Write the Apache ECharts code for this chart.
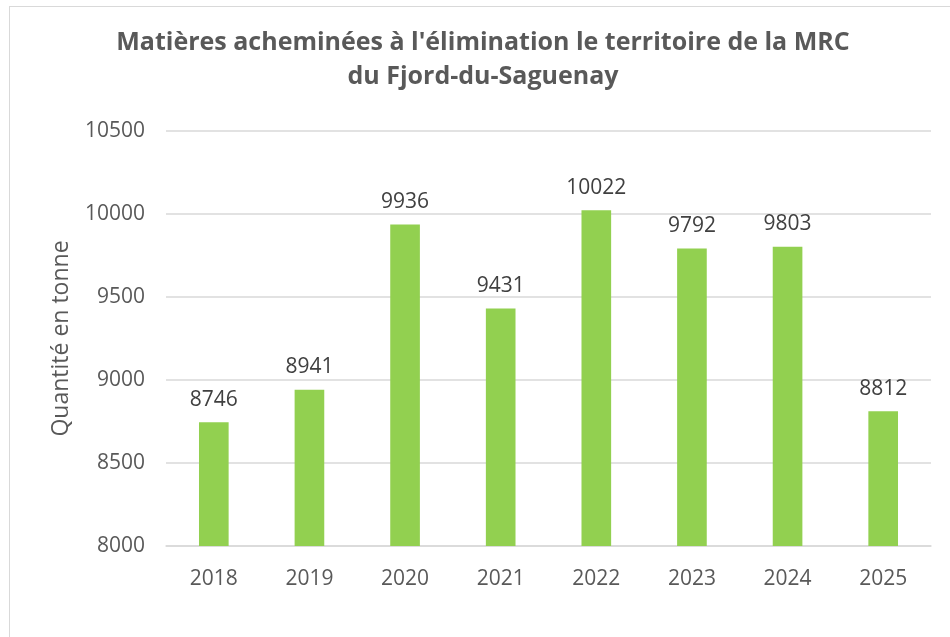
<!DOCTYPE html>
<html>
<head>
<meta charset="utf-8">
<script src="https://cdn.jsdelivr.net/npm/echarts@6/dist/echarts.min.js"></script>
<style>
  html, body { margin: 0; padding: 0; background: #fff; }
  #frame { position: absolute; left: 9px; top: 6px; width: 960px; height: 640px; border: 1px solid #d9d9d9; box-sizing: border-box; }
  #chart { width: 950px; height: 637px; position: absolute; left: 0; top: 0; }
</style>
</head>
<body>
<div id="frame"></div>
<div id="chart"></div>
<script>
const years = ['2018', '2019', '2020', '2021', '2022', '2023', '2024', '2025']
const tonnes = [8746, 8941, 9936, 9431, 10022, 9792, 9803, 8812]

const chart = echarts.init(document.getElementById('chart'))
const font = 'Open Sans, Noto Sans, sans-serif'
chart.setOption({
  title: {
    text: "Matières acheminées à l'élimination le territoire de la MRC\ndu Fjord-du-Saguenay",
    left: 478,
    textAlign: 'center',
    top: 21,
    textStyle: { fontFamily: font, fontSize: 25, fontWeight: 'bold', color: '#595959', lineHeight: 34 }
  },
  grid: { left: 166, right: 19, top: 131, bottom: 91 },
  xAxis: {
    type: 'category',
    data: years,
    axisLine: { lineStyle: { color: '#d9d9d9', width: 1.5 } },
    axisTick: { show: false },
    axisLabel: { fontFamily: font, fontSize: 21, color: '#595959', margin: 23 }
  },
  yAxis: {
    type: 'value',
    min: 8000,
    max: 10500,
    interval: 500,
    name: 'Quantité en tonne',
    nameLocation: 'middle',
    nameGap: 93,
    nameTextStyle: { fontFamily: font, fontSize: 23, color: '#595959' },
    axisLabel: { fontFamily: font, fontSize: 21, color: '#595959', margin: 21, formatter: v => String(v) },
    splitLine: { lineStyle: { color: '#d9d9d9', width: 1.5 } }
  },
  series: [{
    type: 'bar',
    data: tonnes,
    barWidth: '31%',
    itemStyle: { color: '#92d050' },
    label: { show: true, position: 'top', distance: 12, fontFamily: font, fontSize: 21, color: '#404040' }
  }]
})
</script>
</body>
</html>
